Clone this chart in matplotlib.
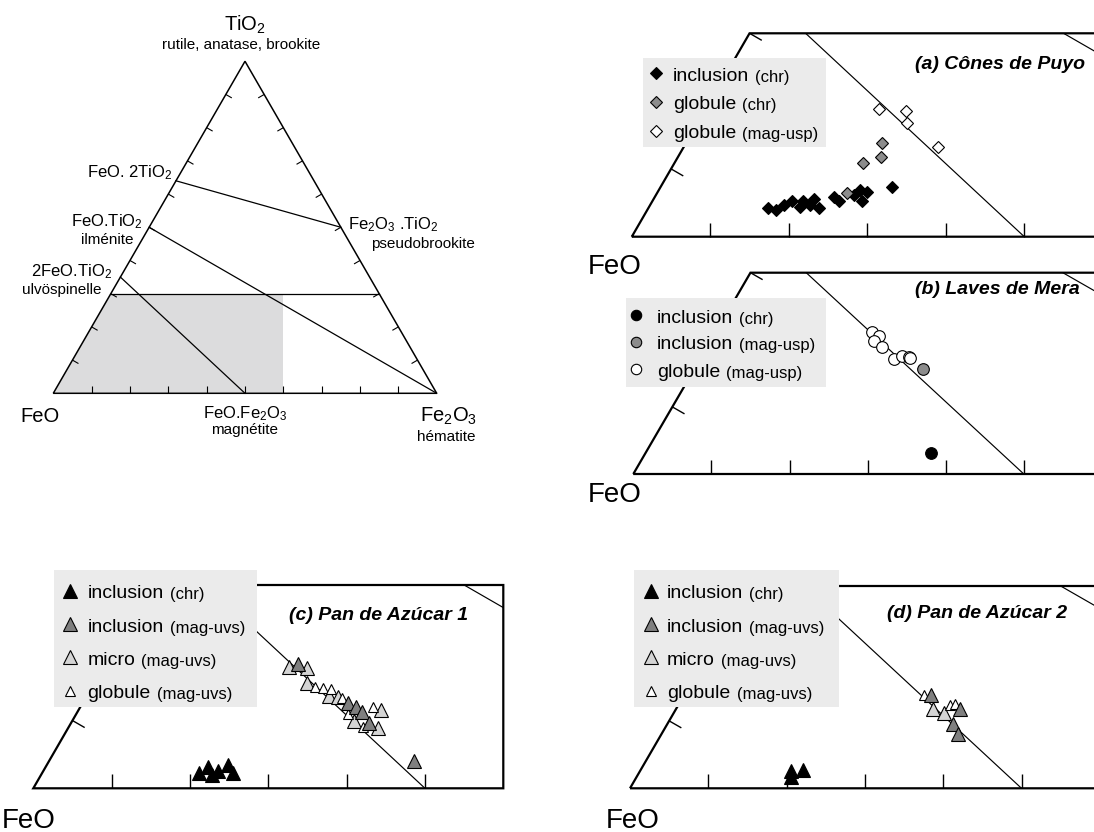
import numpy as np
import matplotlib
matplotlib.use("Agg")
import matplotlib.pyplot as plt
from matplotlib import font_manager
from matplotlib.patches import Polygon, Rectangle

# ---- data: mol % Fe2O3 and TiO2 (FeO = remainder) ----
puyo_inc_chr_fe2o3 = [15.3, 16.4, 17.0, 17.8, 19.2, 19.2, 20.4, 20.4, 21.7, 22.8, 23.7, 25.2, 25.6, 26.6, 26.7, 29.4]
puyo_inc_chr_tio2 = [4.2, 4.0, 4.7, 5.2, 4.4, 5.2, 4.7, 5.5, 4.3, 5.8, 5.3, 6.1, 6.9, 6.6, 5.3, 7.4]
puyo_glob_chr_fe2o3 = [25.0, 25.8, 24.0, 24.2]
puyo_glob_chr_tio2 = [13.8, 11.8, 10.8, 6.5]
puyo_glob_mag_fe2o3 = [22.1, 25.7, 26.7, 32.3]
puyo_glob_mag_tio2 = [18.8, 18.5, 16.8, 13.3]

mera_inc_chr_fe2o3 = [36.6]
mera_inc_chr_tio2 = [3.1]
mera_inc_mag_fe2o3 = [29.2]
mera_inc_mag_tio2 = [15.7]
mera_glob_mag_fe2o3 = [20.0, 21.1, 20.9, 22.3, 24.8, 25.6, 26.5, 26.8]
mera_glob_mag_tio2 = [21.2, 20.6, 19.8, 19.0, 17.2, 17.6, 17.5, 17.3]

pa1_inc_chr_fe2o3 = [20.0, 20.7, 22.3, 23.2, 24.4, 21.8]
pa1_inc_chr_tio2 = [2.2, 3.1, 2.5, 3.4, 2.2, 2.0]
pa1_inc_mag_fe2o3 = [24.7, 33.9, 35.2, 36.4, 38.0, 46.6]
pa1_inc_mag_tio2 = [18.3, 12.6, 12.0, 11.2, 9.7, 4.0]
pa1_micro_fe2o3 = [23.7, 26.1, 27.2, 31.0, 32.1, 36.0, 39.5, 38.7]
pa1_micro_tio2 = [17.9, 17.8, 15.5, 13.6, 13.5, 10.0, 8.9, 11.5]
pa1_glob_fe2o3 = [28.5, 29.6, 30.7, 32.7, 34.7, 37.4, 37.6]
pa1_glob_tio2 = [15.0, 14.8, 14.6, 13.3, 11.0, 12.0, 9.1]

pa2_inc_chr_fe2o3 = [19.2, 20.7, 19.7]
pa2_inc_chr_tio2 = [2.6, 2.7, 1.7]
pa2_inc_mag_fe2o3 = [31.6, 36.3, 36.4, 37.8]
pa2_inc_mag_tio2 = [13.8, 11.8, 9.6, 8.1]
pa2_micro_fe2o3 = [32.9, 34.5]
pa2_micro_tio2 = [11.7, 11.2]
pa2_glob_fe2o3 = [30.7, 34.7, 35.2]
pa2_glob_tio2 = [13.8, 12.3, 12.5]

# mineral joins, (Fe2O3, TiO2) end points
joins = [((0, 64), (50, 50)),   # FeO.2TiO2 - Fe2O3.TiO2
         ((0, 50), (100, 0)),   # ilmenite - hematite
         ((0, 35), (50, 0))]    # ulvospinel - magnetite
tio2_cut = 30                   # limit of the zoomed field
ticks = [10, 20, 30, 40, 50, 60, 70, 80, 90]

W, H = 1094, 832
SQ = np.sqrt(3) / 2

names = {f.name for f in font_manager.fontManager.ttflist}
NARROW = "Liberation Sans Narrow" if "Liberation Sans Narrow" in names else "Liberation Sans"
NSIZE = 13 if NARROW.endswith("Narrow") else 11

plt.rcParams["font.family"] = ["Liberation Sans", "DejaVu Sans"]
plt.rcParams["mathtext.fontset"] = "custom"
plt.rcParams["mathtext.rm"] = "Liberation Sans"
plt.rcParams["mathtext.default"] = "regular"


def tern(fe2o3, tio2):
    b = np.asarray(fe2o3, dtype=float) / 100
    t = np.asarray(tio2, dtype=float) / 100
    return b + t / 2, t * SQ


fig = plt.figure(figsize=(W / 100, H / 100), dpi=100)


def add_axes_px(left, right, base, top, xmax, ymax):
    ax = fig.add_axes([left / W, 1 - base / H, (right - left) / W, (base - top) / H])
    ax.set_xlim(0, xmax)
    ax.set_ylim(0, ymax)
    ax.set_axis_off()
    ax.patch.set_visible(False)
    return ax


def tick(ax, x, y, dx, dy, L, lw):
    ax.plot([x, x + dx * L], [y, y + dy * L], color="k", lw=lw, solid_capstyle="butt", clip_on=False)


# ---------------- full ternary ----------------
axm = add_axes_px(53.3, 436.7, 393.3, 393.3 - 383.4 * SQ, 1, SQ)
top = tio2_cut / 100 * SQ
axm.add_patch(Polygon([(0, 0), (0.6, 0), (0.6, top), (tio2_cut / 200, top)],
                      closed=True, fc="#dcdcdd", ec="none", zorder=0))
axm.add_patch(Polygon([(0, 0), (1, 0), (0.5, SQ)], closed=True, fill=False,
                      ec="k", lw=1.1, clip_on=False, joinstyle="miter"))
for p0, p1 in joins + [((0, tio2_cut), (100 - tio2_cut, tio2_cut))]:
    x, y = tern([p0[0], p1[0]], [p0[1], p1[1]])
    axm.plot(x, y, color="k", lw=0.9, clip_on=False)
for v in ticks:
    x, y = tern([v], [0])
    tick(axm, x[0], y[0], 0, 1, 0.018, 0.8)
    x, y = tern([0], [v])
    tick(axm, x[0], y[0], SQ, -0.5, 0.018, 0.8)
    x, y = tern([100 - v], [v])
    tick(axm, x[0], y[0], -SQ, -0.5, 0.018, 0.8)


# ---------------- zoomed panels ----------------
def draw_panel(ax, series):
    outline = [(0, 0), (0.6, 0), (0.6, top), (tio2_cut / 200, top)]
    clip = Polygon(outline, closed=True, transform=ax.transData)
    ax.add_patch(Polygon(outline, closed=True, fill=False, ec="k", lw=1.6,
                         clip_on=False, joinstyle="miter"))
    for p0, p1 in joins:
        x, y = tern([p0[0], p1[0]], [p0[1], p1[1]])
        ln, = ax.plot(x, y, color="k", lw=0.85)
        ln.set_clip_path(clip)
    for v in [10, 20, 30, 40, 50]:
        x, y = tern([v], [0])
        tick(ax, x[0], y[0], 0, 1, 0.018, 1.0)
    for v in [10, 20, 30]:
        x, y = tern([0], [v])
        tick(ax, x[0], y[0], SQ, -0.5, 0.018, 1.0)
    for fe, ti, mk, ms, fc in series:
        x, y = tern(fe, ti)
        ax.plot(x, y, ls="none", marker=mk, ms=ms, mfc=fc, mec="k", mew=0.8,
                clip_on=False, zorder=3)


DK, MID, LT = "#7f7f7f", "#8c8c8c", "#d4d4d4"

ax_a = add_axes_px(631.8, 631.8 + 0.6 * 785, 236.7, 33.3, 0.6, top)
draw_panel(ax_a, [(puyo_inc_chr_fe2o3, puyo_inc_chr_tio2, "D", 6.3, "k"),
                  (puyo_glob_chr_fe2o3, puyo_glob_chr_tio2, "D", 6.3, MID),
                  (puyo_glob_mag_fe2o3, puyo_glob_mag_tio2, "D", 6.3, "w")])

ax_b = add_axes_px(633.3, 633.3 + 0.6 * 781, 474, 272.7, 0.6, top)
draw_panel(ax_b, [(mera_inc_chr_fe2o3, mera_inc_chr_tio2, "o", 8.4, "k"),
                  (mera_inc_mag_fe2o3, mera_inc_mag_tio2, "o", 8.4, MID),
                  (mera_glob_mag_fe2o3, mera_glob_mag_tio2, "o", 8.4, "w")])

ax_c = add_axes_px(33.3, 503.3, 788.3, 585, 0.6, top)
draw_panel(ax_c, [(pa1_inc_chr_fe2o3, pa1_inc_chr_tio2, "^", 9.5, "k"),
                  (pa1_micro_fe2o3, pa1_micro_tio2, "^", 9.5, LT),
                  (pa1_glob_fe2o3, pa1_glob_tio2, "^", 6.5, "w"),
                  (pa1_inc_mag_fe2o3, pa1_inc_mag_tio2, "^", 9.5, DK)])

ax_d = add_axes_px(630, 630 + 0.6 * 783, 788.3, 586, 0.6, top)
draw_panel(ax_d, [(pa2_inc_chr_fe2o3, pa2_inc_chr_tio2, "^", 9.5, "k"),
                  (pa2_micro_fe2o3, pa2_micro_tio2, "^", 9.5, LT),
                  (pa2_glob_fe2o3, pa2_glob_tio2, "^", 6.5, "w"),
                  (pa2_inc_mag_fe2o3, pa2_inc_mag_tio2, "^", 9.5, DK)])

# ---------------- labels and legends (pixel overlay) ----------------
ov = add_axes_px(0, W, H, 0, W, H)
ov.set_ylim(H, 0)


def label(x, y, s, size=12, ha="center", narrow=False, **kw):
    fam = [NARROW, "Liberation Sans"] if narrow else ["Liberation Sans"]
    ov.text(x, y, s, fontsize=NSIZE if narrow else size, ha=ha, va="baseline",
            family=fam, **kw)


label(245, 31, "TiO$_2$", 14.5)
label(241, 49, "rutile, anatase, brookite", narrow=True)
label(173, 177, "FeO. 2TiO$_2$", ha="right")
label(107, 226, "FeO.TiO$_2$")
label(107, 244.5, "ilménite", narrow=True)
label(71.7, 276.5, "2FeO.TiO$_2$")
label(62, 294, "ulvöspinelle", narrow=True)
label(348, 229.5, "Fe$_2$O$_3$ .TiO$_2$", ha="left")
label(370.7, 248, "pseudobrookite", ha="left", narrow=True)
label(20, 421.7, "FeO", 14.5, ha="left")
label(245.5, 418.3, "FeO.Fe$_2$O$_3$")
label(245, 434, "magnétite", narrow=True)
label(420, 421.7, "Fe$_2$O$_3$", 14.5, ha="left")
label(446, 441, "hématite", narrow=True)

for x, y in [(588, 273.5), (588, 502), (2, 828), (606, 828)]:
    label(x, y, "FeO", 20, ha="left")

for x, y, s in [(1085, 69, "(a) Cônes de Puyo"), (1080, 294, "(b) Laves de Mera"),
                (468.3, 620, "(c) Pan de Azúcar 1"), (1067, 618, "(d) Pan de Azúcar 2")]:
    label(x, y, s, 14, ha="right", fontweight="bold", fontstyle="italic")


def legend(box, mx, tx, rows, entries):
    x0, y0, x1, y1 = box
    ov.add_patch(Rectangle((x0, y0), x1 - x0, y1 - y0, fc="#ebebeb", ec="none", zorder=5))
    for y, (mk, ms, fc, word, note) in zip(rows, entries):
        ov.plot([mx], [y], ls="none", marker=mk, ms=ms, mfc=fc, mec="k", mew=0.8, zorder=6)
        t = ov.text(tx, y + 7.7, word, fontsize=14, va="baseline", zorder=6)
        ov.annotate(note, xy=(1, 0), xycoords=t, xytext=(4.5, 0), textcoords="offset points",
                    fontsize=12, va="bottom", zorder=6)


legend((643.3, 58.3, 826, 147.3), 656, 672.7, [73.3, 101.7, 130.7],
       [("D", 6.3, "k", "inclusion", "(chr)"), ("D", 6.3, MID, "globule", "(chr)"),
        ("D", 6.3, "w", "globule", "(mag-usp)")])
legend((625.7, 298.3, 826, 386.7), 636, 656.7, [315, 341.7, 369.3],
       [("o", 7.5, "k", "inclusion", "(chr)"), ("o", 7.5, MID, "inclusion", "(mag-usp)"),
        ("o", 7.5, "w", "globule", "(mag-usp)")])
tri_entries = [("^", 10, "k", "inclusion", "(chr)"), ("^", 10, DK, "inclusion", "(mag-uvs)"),
               ("^", 10, LT, "micro", "(mag-uvs)"), ("^", 7, "w", "globule", "(mag-uvs)")]
legend((54, 570, 256.7, 706.7), 70, 87.3, [590.7, 624, 657.3, 690.7], tri_entries)
legend((634, 570, 838.6, 707), 650.5, 667, [590.7, 624, 657.3, 690.7], tri_entries)

fig.savefig("out.png", dpi=100)
